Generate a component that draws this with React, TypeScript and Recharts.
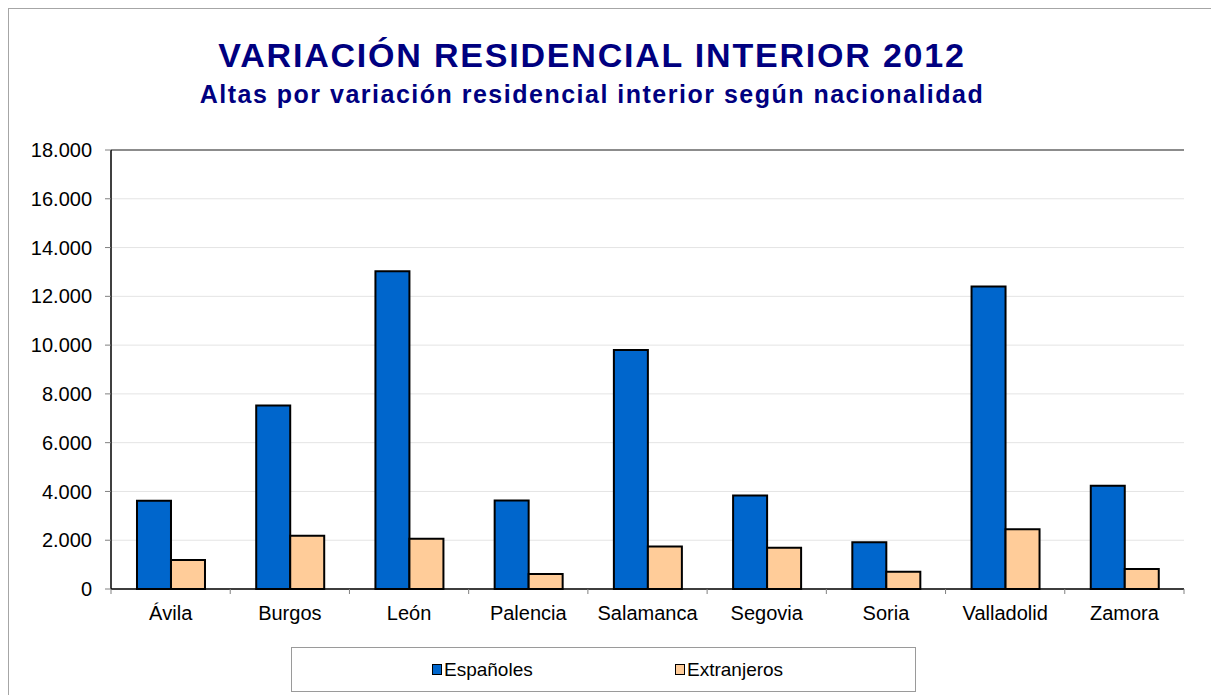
import React from 'react';
import {
  BarChart, Bar, XAxis, YAxis, CartesianGrid, Legend, ReferenceLine,
} from 'recharts';

// Altas por variación residencial interior 2012, por provincia
const provincias = ['Ávila', 'Burgos', 'León', 'Palencia', 'Salamanca', 'Segovia', 'Soria', 'Valladolid', 'Zamora'];
const espanoles = [3620, 7520, 13030, 3630, 9795, 3835, 1915, 12400, 4235];
const extranjeros = [1190, 2180, 2060, 620, 1740, 1690, 710, 2450, 820];
const yTicks = [0, 2000, 4000, 6000, 8000, 10000, 12000, 14000, 16000, 18000];

const data = provincias.map((name, i) => ({
  name,
  espanoles: espanoles[i],
  extranjeros: extranjeros[i],
}));

const CHART_W = 1194;
const CHART_H = 686;
const Y_AXIS_W = 102;
const MARGIN = { top: 141, right: 19, left: 0, bottom: 76 };
const PLOT_W = CHART_W - MARGIN.left - MARGIN.right - Y_AXIS_W;
const X_TICK_SIZE = 5;
const X_TICK_MARGIN = 12;

const NAVY = '#000080';
const FONT = '"Liberation Sans", Arial, sans-serif';

const formatMiles = (v: number) => String(v).replace(/\B(?=(\d{3})+(?!\d))/g, '.');

// ticks sit on the category boundaries, labels in the middle
const XTick = (props: any) => {
  const { x, y, payload, index } = props;
  const bw = PLOT_W / provincias.length;
  const axisY = y - X_TICK_SIZE - X_TICK_MARGIN;
  return (
    <g>
      <line x1={x - bw / 2} x2={x - bw / 2} y1={axisY} y2={axisY + X_TICK_SIZE} stroke="#808080" />
      {index === provincias.length - 1 && (
        <line x1={x + bw / 2} x2={x + bw / 2} y1={axisY} y2={axisY + X_TICK_SIZE} stroke="#808080" />
      )}
      <text x={x} y={y} dy="0.71em" textAnchor="middle" fill="#000" fontSize={20} fontFamily={FONT}>
        {payload.value}
      </text>
    </g>
  );
};

const LegendBox = (props: any) => {
  const items = props.payload || [];
  const lefts = [140, 383];
  return (
    <div style={{ position: 'relative', width: 625, height: 45, border: '1px solid #9a9a9a', boxSizing: 'border-box', fontFamily: FONT }}>
      {items.map((it: any, i: number) => (
        <div key={it.value} style={{ position: 'absolute', left: lefts[i], top: 0, height: 43, display: 'flex', alignItems: 'center' }}>
          <span style={{ width: 8, height: 9, background: it.color, border: '1.5px solid #000', display: 'inline-block', marginRight: 2 }} />
          <span style={{ fontSize: 19, color: '#000' }}>{it.value}</span>
        </div>
      ))}
    </div>
  );
};

export default function App() {
  return (
    <div style={{ position: 'fixed', left: 8, top: 8, right: 0, bottom: 0, overflow: 'hidden' }}>
      <div style={{ position: 'relative', width: 1220, height: 700, borderLeft: '1px solid #a6a6a6', borderTop: '1px solid #a6a6a6', boxSizing: 'border-box', background: '#fff', fontFamily: FONT }}>
        <div style={{ position: 'absolute', left: 0, top: 29, width: 1166, textAlign: 'center', color: NAVY, fontWeight: 'bold', fontSize: 34, lineHeight: '34px', letterSpacing: 1.8 }}>
          VARIACIÓN RESIDENCIAL INTERIOR 2012
        </div>
        <div style={{ position: 'absolute', left: 0, top: 73, width: 1166, textAlign: 'center', color: NAVY, fontWeight: 'bold', fontSize: 25, lineHeight: '25px', letterSpacing: 1.5 }}>
          Altas por variación residencial interior según nacionalidad
        </div>
        <div style={{ position: 'absolute', left: 0, top: 0 }}>
          <BarChart width={CHART_W} height={CHART_H} data={data} margin={MARGIN} barCategoryGap="21.8%" barGap={0}>
            <CartesianGrid vertical={false} stroke="#e4e4e4" />
            <XAxis
              dataKey="name"
              interval={0}
              height={30}
              tickLine={false}
              tickSize={X_TICK_SIZE}
              tickMargin={X_TICK_MARGIN}
              axisLine={{ stroke: '#000', strokeWidth: 1.5 }}
              tick={<XTick />}
            />
            <YAxis
              width={Y_AXIS_W}
              domain={[0, 18000]}
              ticks={yTicks}
              tickFormatter={formatMiles}
              tickSize={6}
              tickMargin={13}
              tickLine={{ stroke: '#808080' }}
              axisLine={{ stroke: '#000', strokeWidth: 1.5 }}
              tick={{ fill: '#000', fontSize: 20, fontFamily: FONT }}
            />
            <YAxis
              yAxisId="borde"
              orientation="right"
              width={0}
              domain={[0, 18000]}
              tick={false}
              tickLine={false}
              axisLine={{ stroke: '#8c8c8c', strokeWidth: 2 }}
            />
            <ReferenceLine y={18000} stroke="#8c8c8c" strokeWidth={2} />
            <Bar dataKey="espanoles" name="Españoles" fill="#0066CC" stroke="#000" strokeWidth={2} isAnimationActive={false} />
            <Bar dataKey="extranjeros" name="Extranjeros" fill="#FFCC99" stroke="#000" strokeWidth={2} isAnimationActive={false} />
            <Legend
              layout="horizontal"
              verticalAlign="middle"
              align="center"
              content={<LegendBox />}
              wrapperStyle={{ position: 'absolute', left: 282, top: 638, width: 625, height: 45 }}
            />
          </BarChart>
        </div>
      </div>
    </div>
  );
}
